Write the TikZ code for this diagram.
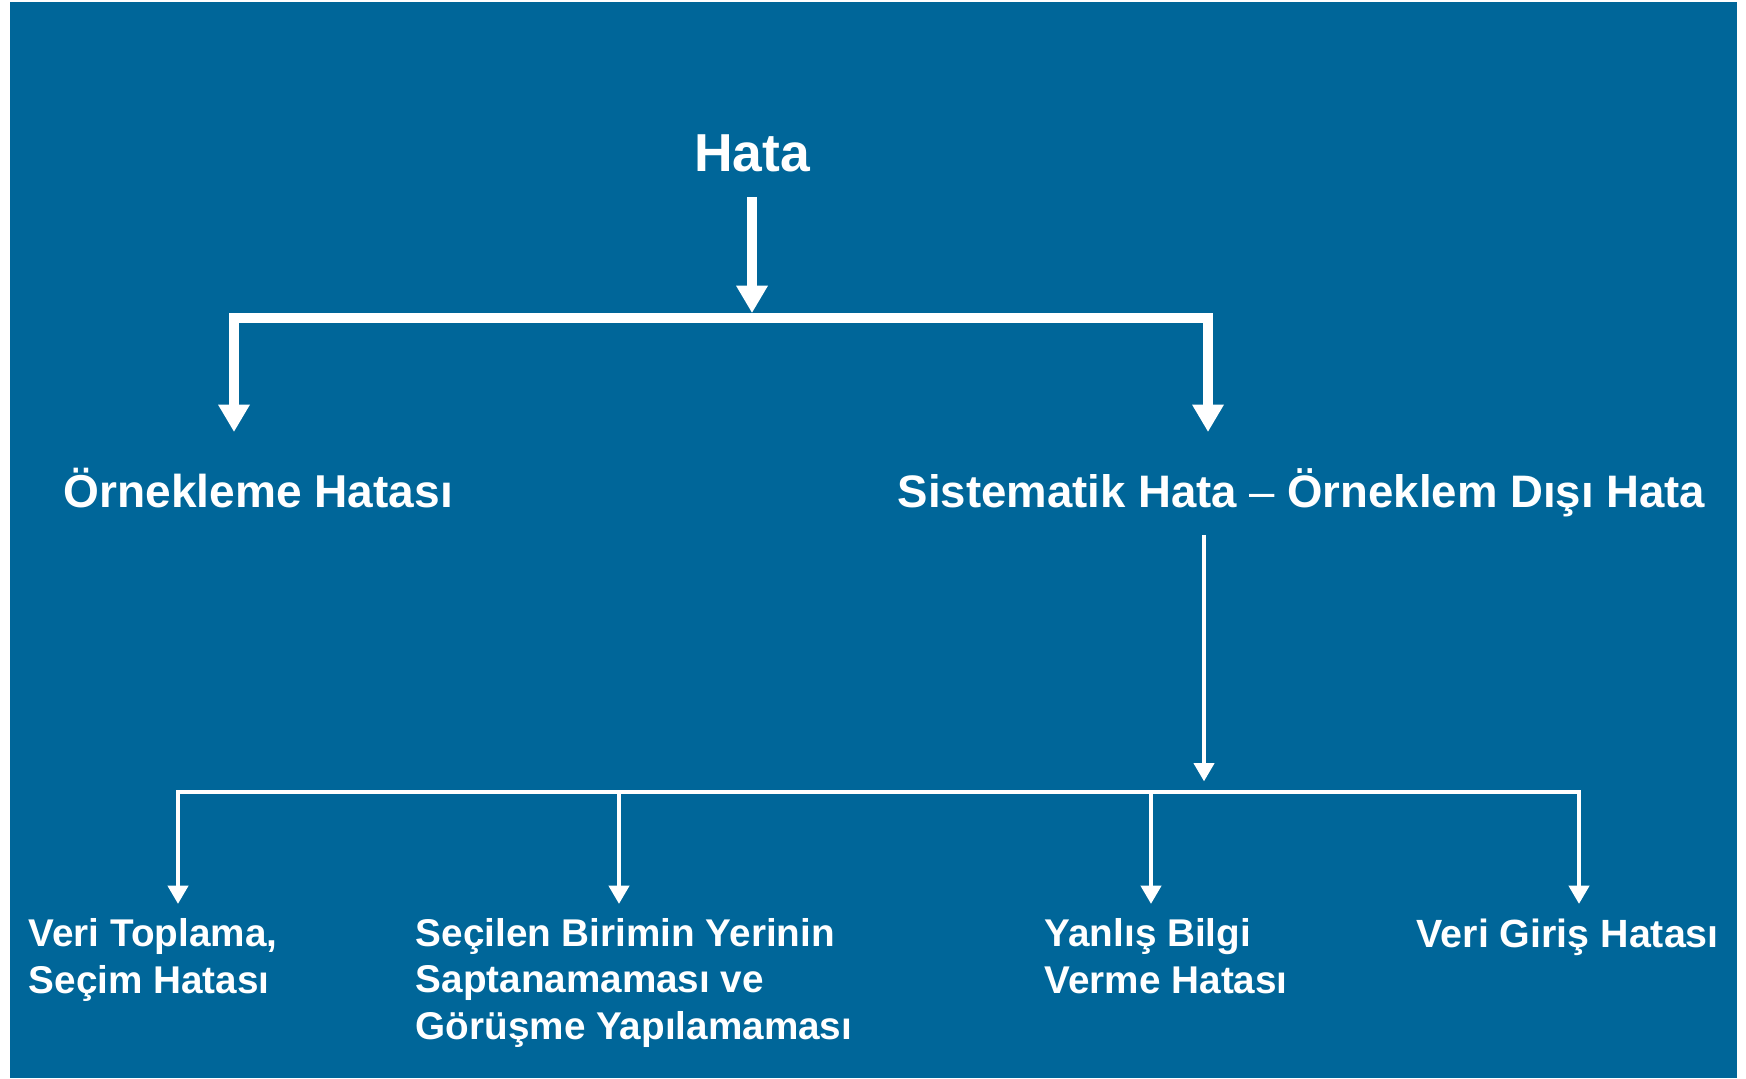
\documentclass[tikz,border=0pt]{standalone}
\usepackage{fontspec}
\setmainfont{Liberation Sans}
\usepackage{xcolor}
\usetikzlibrary{arrows.meta}
\definecolor{panelblue}{HTML}{006699}

\begin{document}
\begin{tikzpicture}[
  x=0.01cm, y=-0.01cm,
  every node/.style={text=white, inner sep=0pt, font=\bfseries},
  big/.style={draw=white, line width=2.8pt},
  small/.style={draw=white, line width=1.4pt},
]
\tikzset{
  bigtip/.style={-{Triangle[width=8.5pt, length=7.8pt]}},
  smalltip/.style={-{Triangle[width=5.6pt, length=5.2pt]}},
  leaf/.style={anchor=base west, align=left, font=\bfseries\fontsize{11}{13.1}\selectfont},
}

% Background
\useasboundingbox (0,0) rectangle (1746,1078);
\fill[panelblue] (10,2) rectangle (1737,1078);

% Nodes - top
\node[anchor=base, font=\bfseries\fontsize{15.2}{18}\selectfont] (hata) at (752,171) {Hata};

% Nodes - middle row
\node[anchor=base west, font=\bfseries\fontsize{13.1}{16}\selectfont] (ornek) at (63,507) {Örnekleme Hatası};
\node[anchor=base west, font=\bfseries\fontsize{12.95}{16}\selectfont] (sist) at (897,507) {Sistematik Hata {\mdseries --} Örneklem Dışı Hata};

% Nodes - bottom row (base = last line)
\node[leaf] (veri) at (28,993) {Veri Toplama,\\Seçim Hatası};
\node[leaf] (birim) at (415,1039) {Seçilen Birimin Yerinin\\Saptanamaması ve\\Görüşme Yapılamaması};
\node[leaf] (bilgi) at (1044,993) {Yanlış Bilgi\\Verme Hatası};
\node[leaf, font=\bfseries\fontsize{11.2}{13.1}\selectfont] (giris) at (1416,947) {Veri Giriş Hatası};

% Junctions and arrow tips
\coordinate (jtop) at (752,318);
\coordinate (tl) at (234,432);
\coordinate (tr) at (1208,432);
\coordinate (jbot) at (1204,792);
\coordinate (b1) at (178,792);
\coordinate (b2) at (619,792);
\coordinate (b3) at (1151,792);
\coordinate (b4) at (1579,792);
\coordinate (t1) at (178,904);
\coordinate (t2) at (619,904);
\coordinate (t3) at (1151,904);
\coordinate (t4) at (1579,904);

% Upper tree
\draw[big, bigtip, shorten <=7pt, shorten >=1.4pt] (hata) -- (jtop);
\draw[big, {Triangle[width=8.5pt, length=7.8pt]}-{Triangle[width=8.5pt, length=7.8pt]}] (tl) |- (jtop) -| (tr);

% Lower tree
\draw[small, smalltip, shorten <=5pt, shorten >=3pt] (sist.south -| jbot) -- (jbot);
\draw[small, {Triangle[width=5.6pt, length=5.2pt]}-{Triangle[width=5.6pt, length=5.2pt]}] (t1) |- (b4) -- (t4);
\draw[small, smalltip] (b2) -- (t2);
\draw[small, smalltip] (b3) -- (t3);

\end{tikzpicture}
\end{document}
